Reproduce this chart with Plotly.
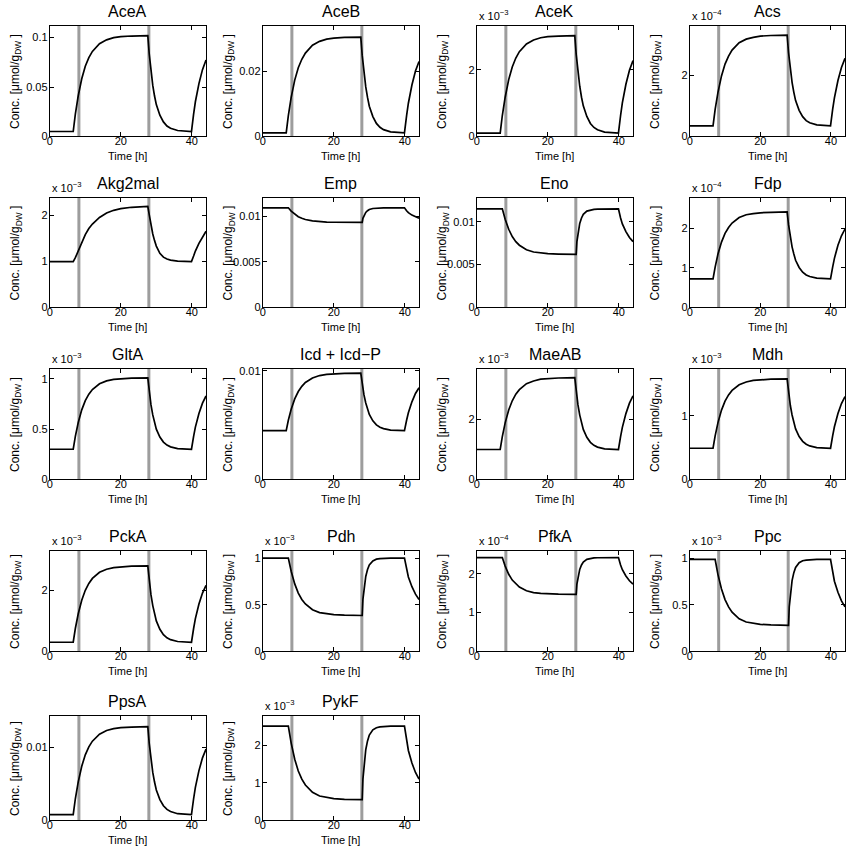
import plotly.graph_objects as go

# ---------------- data ----------------
T = [0, 6.6, 7.2, 8, 9, 10, 11, 12, 14, 16, 18, 20, 23, 27.6, 28, 28.2, 28.5, 29, 29.5, 30,
     31, 32, 33, 34, 36, 39.9, 40.5, 41, 42, 43, 44]

names = ["AceA", "AceB", "AceK", "Acs", "Akg2mal", "Emp", "Eno", "Fdp", "GltA",
         "Icd + Icd\u2212P", "MaeAB", "Mdh", "PckA", "Pdh", "PfkA", "Ppc", "PpsA", "PykF"]

AceA = [0.005, 0.005, 0.0225, 0.0409, 0.0584, 0.071, 0.0797, 0.086, 0.0938, 0.0977, 0.0999, 0.1009,
        0.1016, 0.102, 0.0836, 0.0758, 0.0651, 0.0516, 0.0409, 0.0322, 0.0215, 0.0147, 0.0106, 0.0083,
        0.006, 0.005, 0.0225, 0.0351, 0.0535, 0.0676, 0.0773]
AceB = [0.0011, 0.0011, 0.0064, 0.0120, 0.0173, 0.0211, 0.0237, 0.0256, 0.0280, 0.0292, 0.0299, 0.0302,
        0.0304, 0.0305, 0.0249, 0.0226, 0.0193, 0.0152, 0.0120, 0.0093, 0.0061, 0.0040, 0.0028, 0.0021,
        0.0014, 0.0011, 0.0064, 0.0102, 0.0158, 0.0201, 0.0230]
AceK = [0.1, 0.1, 0.63, 1.18, 1.71, 2.09, 2.36, 2.55, 2.78, 2.90, 2.97, 3.00, 3.02, 3.03, 2.47, 2.24,
        1.92, 1.51, 1.18, 0.92, 0.60, 0.39, 0.27, 0.20, 0.13, 0.1, 0.63, 1.01, 1.57, 1.99, 2.28]
Acs = [0.35, 0.35, 0.89, 1.45, 1.99, 2.38, 2.64, 2.84, 3.08, 3.20, 3.26, 3.30, 3.32, 3.33, 2.76, 2.53,
       2.20, 1.78, 1.45, 1.18, 0.86, 0.65, 0.52, 0.45, 0.38, 0.35, 0.89, 1.27, 1.84, 2.27, 2.57]
Akg2mal = [1.0, 1.0, 1.084, 1.24, 1.432, 1.588, 1.72, 1.816, 1.96, 2.056, 2.116, 2.152, 2.182, 2.2,
           2.02, 1.924, 1.792, 1.6, 1.456, 1.336, 1.18, 1.096, 1.054, 1.03, 1.01, 1.0, 1.12, 1.228,
           1.396, 1.54, 1.66]
Emp = [0.0109, 0.0109, 0.0109, 0.01053, 0.01018, 0.00992, 0.00975, 0.00962, 0.00946, 0.00938, 0.00934,
       0.00932, 0.00931, 0.0093, 0.0093, 0.00975, 0.01002, 0.01039, 0.01058, 0.01071, 0.01082, 0.01087,
       0.01088, 0.01089, 0.0109, 0.0109, 0.01058, 0.01037, 0.0101, 0.00989, 0.00975]
Eno = [0.0115, 0.0115, 0.0115, 0.01028, 0.00912, 0.00827, 0.00768, 0.00726, 0.00673, 0.00647, 0.00634,
       0.00627, 0.00623, 0.0062, 0.0062, 0.00768, 0.00858, 0.0098, 0.01044, 0.01086, 0.01124, 0.01139,
       0.01145, 0.01147, 0.0115, 0.0115, 0.01044, 0.00975, 0.00885, 0.00816, 0.00768]
Fdp = [0.72, 0.72, 1.02, 1.35, 1.65, 1.87, 2.02, 2.13, 2.27, 2.34, 2.37, 2.39, 2.40, 2.41, 2.09, 1.95,
       1.77, 1.53, 1.35, 1.19, 1.01, 0.89, 0.82, 0.78, 0.74, 0.72, 1.02, 1.24, 1.57, 1.81, 1.98]
GltA = [0.3, 0.3, 0.428, 0.563, 0.691, 0.783, 0.847, 0.893, 0.95, 0.979, 0.994, 1.002, 1.007, 1.01,
        0.875, 0.818, 0.74, 0.641, 0.563, 0.499, 0.421, 0.371, 0.341, 0.324, 0.307, 0.3, 0.428, 0.52,
        0.655, 0.758, 0.829]
Icd = [0.0045, 0.0045, 0.00545, 0.00646, 0.00742, 0.0081, 0.00858, 0.00893, 0.00935, 0.00957, 0.00968,
       0.00974, 0.00978, 0.0098, 0.00879, 0.00837, 0.00779, 0.00704, 0.00646, 0.00598, 0.0054, 0.00503,
       0.00481, 0.00468, 0.00455, 0.0045, 0.00545, 0.00614, 0.00715, 0.00792, 0.00845]
MaeAB = [1.0, 1.0, 1.43, 1.89, 2.32, 2.63, 2.85, 3.0, 3.2, 3.29, 3.35, 3.37, 3.39, 3.4, 2.94, 2.75,
         2.49, 2.15, 1.89, 1.67, 1.41, 1.24, 1.14, 1.08, 1.02, 1.0, 1.43, 1.74, 2.2, 2.55, 2.79]
Mdh = [0.49, 0.49, 0.686, 0.893, 1.09, 1.231, 1.329, 1.4, 1.487, 1.532, 1.556, 1.568, 1.576, 1.58,
       1.373, 1.286, 1.166, 1.013, 0.893, 0.795, 0.675, 0.599, 0.553, 0.527, 0.501, 0.49, 0.686, 0.828,
       1.035, 1.193, 1.302]
PckA = [0.3, 0.3, 0.75, 1.225, 1.675, 2.0, 2.225, 2.39, 2.59, 2.69, 2.745, 2.77, 2.79, 2.8, 2.325,
        2.125, 1.85, 1.5, 1.225, 1.0, 0.725, 0.55, 0.445, 0.385, 0.325, 0.3, 0.75, 1.075, 1.55, 1.91, 2.16]
Pdh = [1.0, 1.0, 1.0, 0.859, 0.723, 0.625, 0.557, 0.508, 0.447, 0.416, 0.402, 0.394, 0.388, 0.385,
       0.385, 0.557, 0.662, 0.803, 0.877, 0.926, 0.969, 0.988, 0.994, 0.997, 1.0, 1.0, 0.877, 0.797,
       0.693, 0.613, 0.557]
PfkA = [2.42, 2.42, 2.42, 2.2, 1.99, 1.84, 1.736, 1.66, 1.565, 1.518, 1.496, 1.483, 1.475, 1.47, 1.47,
        1.736, 1.898, 2.116, 2.23, 2.306, 2.373, 2.401, 2.41, 2.415, 2.42, 2.42, 2.23, 2.106, 1.945,
        1.822, 1.736]
Ppc = [0.985, 0.985, 0.985, 0.823, 0.668, 0.555, 0.477, 0.421, 0.35, 0.315, 0.299, 0.29, 0.284, 0.28,
       0.28, 0.477, 0.597, 0.759, 0.844, 0.9, 0.95, 0.971, 0.978, 0.981, 0.985, 0.985, 0.844, 0.752,
       0.633, 0.541, 0.477]
PpsA = [0.0008, 0.0008, 0.00296, 0.00524, 0.0074, 0.00896, 0.01004, 0.01082, 0.01178, 0.01227, 0.01254,
        0.01267, 0.01275, 0.0128, 0.01052, 0.00956, 0.00824, 0.00656, 0.00524, 0.00416, 0.00284, 0.002,
        0.0015, 0.00121, 0.00092, 0.0008, 0.00296, 0.00452, 0.0068, 0.00854, 0.00974]
PykF = [2.5, 2.5, 2.5, 2.052, 1.623, 1.311, 1.096, 0.94, 0.745, 0.648, 0.603, 0.577, 0.56, 0.55, 0.55,
        1.096, 1.428, 1.876, 2.11, 2.266, 2.403, 2.461, 2.481, 2.49, 2.5, 2.5, 2.11, 1.857, 1.525,
        1.272, 1.096]

series = [AceA, AceB, AceK, Acs, Akg2mal, Emp, Eno, Fdp, GltA, Icd, MaeAB, Mdh, PckA, Pdh, PfkA,
          Ppc, PpsA, PykF]

y_max = [0.112, 0.034, 3.33, 3.64, 2.39, 0.012, 0.0128, 2.77, 1.1, 0.0102, 3.7, 1.74, 3.3, 1.08,
         2.6, 1.08, 0.0143, 2.78]
y_tickvals = [[0, 0.05, 0.1], [0, 0.02], [0, 2], [0, 2], [0, 1, 2], [0, 0.005, 0.01],
              [0, 0.005, 0.01], [0, 1, 2], [0, 0.5, 1], [0, 0.01], [0, 2], [0, 1], [0, 2],
              [0, 0.5, 1], [0, 1, 2], [0, 0.5, 1], [0, 0.01], [0, 1, 2]]
y_ticktext = [["0", "0.05", "0.1"], ["0", "0.02"], ["0", "2"], ["0", "2"], ["0", "1", "2"],
              ["0", "0.005", "0.01"], ["0", "0.005", "0.01"], ["0", "1", "2"], ["0", "0.5", "1"],
              ["0", "0.01"], ["0", "2"], ["0", "1"], ["0", "2"], ["0", "0.5", "1"], ["0", "1", "2"],
              ["0", "0.5", "1"], ["0", "0.01"], ["0", "1", "2"]]
exponents = [None, None, -3, -4, -3, None, None, -4, -3, None, -3, -3, -3, -3, -4, -3, None, -3]

x_tickvals = [0, 20, 40]
x_ticktext = ["0", "20", "40"]
switch_times = [8.2, 27.9]

# ---------------- layout geometry (pixels) ----------------
W, H = 846, 864
col_left = [47, 261, 476, 690]
col_w = 157
row_top = [22, 196, 369, 553, 720]
row_bot = [134, 307, 481, 655, 826]

FONT = "Liberation Sans, Arial, Helvetica, sans-serif"

fig = go.Figure()
layout = dict(
    width=W, height=H, margin=dict(l=0, r=0, t=0, b=0),
    paper_bgcolor="white", plot_bgcolor="white", showlegend=False,
    font=dict(family=FONT, color="black"),
)
annotations = []
shapes = []

for i, (name, vals) in enumerate(zip(names, series)):
    n = i + 1
    r, c = divmod(i, 4)
    left = col_left[c]
    right = min(left + col_w, W)
    top, bot = row_top[r], row_bot[r]
    xs = "" if n == 1 else str(n)

    fig.add_trace(go.Scatter(x=T, y=vals, mode="lines",
                             line=dict(color="black", width=1.7),
                             xaxis="x" + xs, yaxis="y" + xs, hoverinfo="skip"))

    common = dict(showline=True, mirror="ticks", linecolor="black", linewidth=1,
                  ticks="inside", ticklen=4, tickcolor="black", showgrid=False,
                  zeroline=False, tickfont=dict(size=11, family=FONT, color="black"))
    layout["xaxis" + xs] = dict(domain=[left / W, right / W], anchor="y" + xs,
                                range=[0, 44], tickvals=x_tickvals, ticktext=x_ticktext,
                                ticklabelstandoff=-6, **common)
    layout["yaxis" + xs] = dict(domain=[1 - bot / H, 1 - top / H], anchor="x" + xs,
                                range=[0, y_max[i]], tickvals=y_tickvals[i],
                                ticktext=y_ticktext[i], ticklabelstandoff=-1, **common)

    for ts in switch_times:
        shapes.append(dict(type="line", xref="x" + xs, yref="y" + xs + " domain",
                           x0=ts, x1=ts, y0=0, y1=1, layer="below",
                           line=dict(color="#9d9d9d", width=3)))

    cx = (left + left + col_w) / 2
    annotations.append(dict(text=name, x=cx / W, y=1 - (top - 14) / H, xref="paper",
                            yref="paper", showarrow=False, xanchor="center", yanchor="middle",
                            font=dict(size=16, family=FONT)))
    annotations.append(dict(text="Time [h]", x=cx / W, y=1 - (bot + 20) / H, xref="paper",
                            yref="paper", showarrow=False, xanchor="center", yanchor="middle",
                            font=dict(size=11, family=FONT)))
    annotations.append(dict(text="Conc. [\u03bcmol/g<sub>DW</sub> ]", x=(left - 34) / W,
                            y=1 - (top + bot) / 2 / H, xref="paper", yref="paper",
                            showarrow=False, textangle=-90, xanchor="center", yanchor="middle",
                            font=dict(size=12, family=FONT)))
    if exponents[i] is not None:
        annotations.append(dict(text="x 10<sup>\u2212%d</sup>" % abs(exponents[i]),
                                x=left / W, y=1 - (top - 2) / H, xref="paper", yref="paper",
                                showarrow=False, xanchor="left", yanchor="bottom",
                                font=dict(size=11, family=FONT)))

layout["annotations"] = annotations
layout["shapes"] = shapes
fig.update_layout(**layout)
fig.write_html("out.html")
